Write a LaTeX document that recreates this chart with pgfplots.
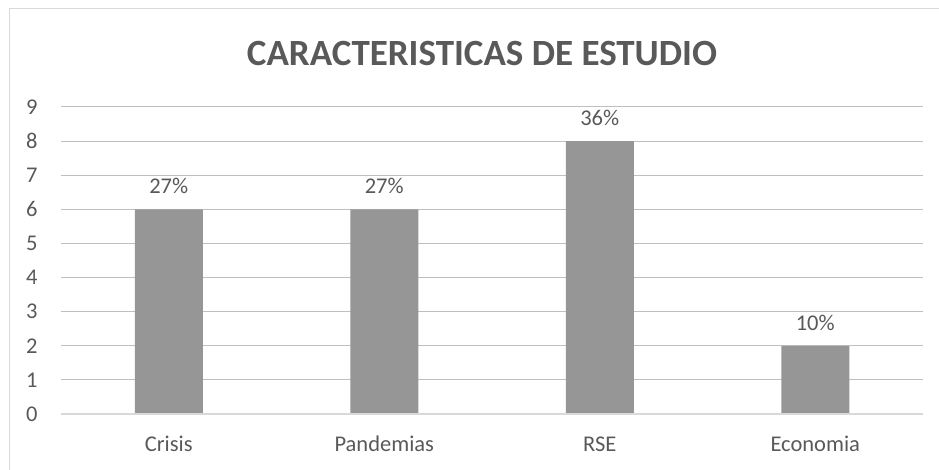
\documentclass[border=0pt]{standalone}
\usepackage{pgfplots}
\pgfplotsset{compat=1.18}
\usepackage{fontspec}
\setmainfont{Carlito}
\definecolor{txt}{HTML}{595959}
\definecolor{grid}{HTML}{D9D9D9}
\definecolor{bar}{HTML}{969696}
\begin{document}
\begin{tikzpicture}[x=1bp,y=1bp]
\useasboundingbox (0,0) rectangle (939,470);
\draw[grid, line width=1bp] (9.5,-5) -- (9.5,461.5) -- (945,461.5);
\node[text=txt, font=\fontsize{37bp}{44bp}\selectfont\bfseries] at (482,416) {CARACTERISTICAS DE ESTUDIO};
\begin{axis}[
  at={(61bp,56bp)}, anchor=south west,
  scale only axis, width=862bp, height=307bp,
  xmin=-0.5, xmax=3.5, ymin=0, ymax=9,
  ytick={0,...,9},
  xtick=data, xticklabels={Crisis,Pandemias,RSE,Economia},
  axis line style={draw=none},
  major tick length=0pt,
  tick style={draw=none},
  xmajorgrids=false,
  ymajorgrids, grid style={grid, line width=1bp},
  ticklabel style={text=txt, font=\fontsize{22.5bp}{27bp}\selectfont},
  /pgf/number format/assume math mode=true,
  yticklabel style={xshift=-20bp},
  xticklabel style={yshift=-18bp, text height=16bp, text depth=5bp},
  clip=false,
]
\addplot[ybar, bar width=68bp, fill=bar, draw=none,
  nodes near coords, point meta=explicit symbolic,
  every node near coord/.append style={text=txt, font=\fontsize{22.5bp}{27bp}\selectfont, yshift=12bp}]
  table[meta=lab] {
x y lab
0 6 27\%
1 6 27\%
2 8 36\%
3 2 10\%
};
\draw[grid, line width=1.5bp] (axis cs:-0.5,0) -- (axis cs:3.5,0);
\end{axis}
\end{tikzpicture}
\end{document}
